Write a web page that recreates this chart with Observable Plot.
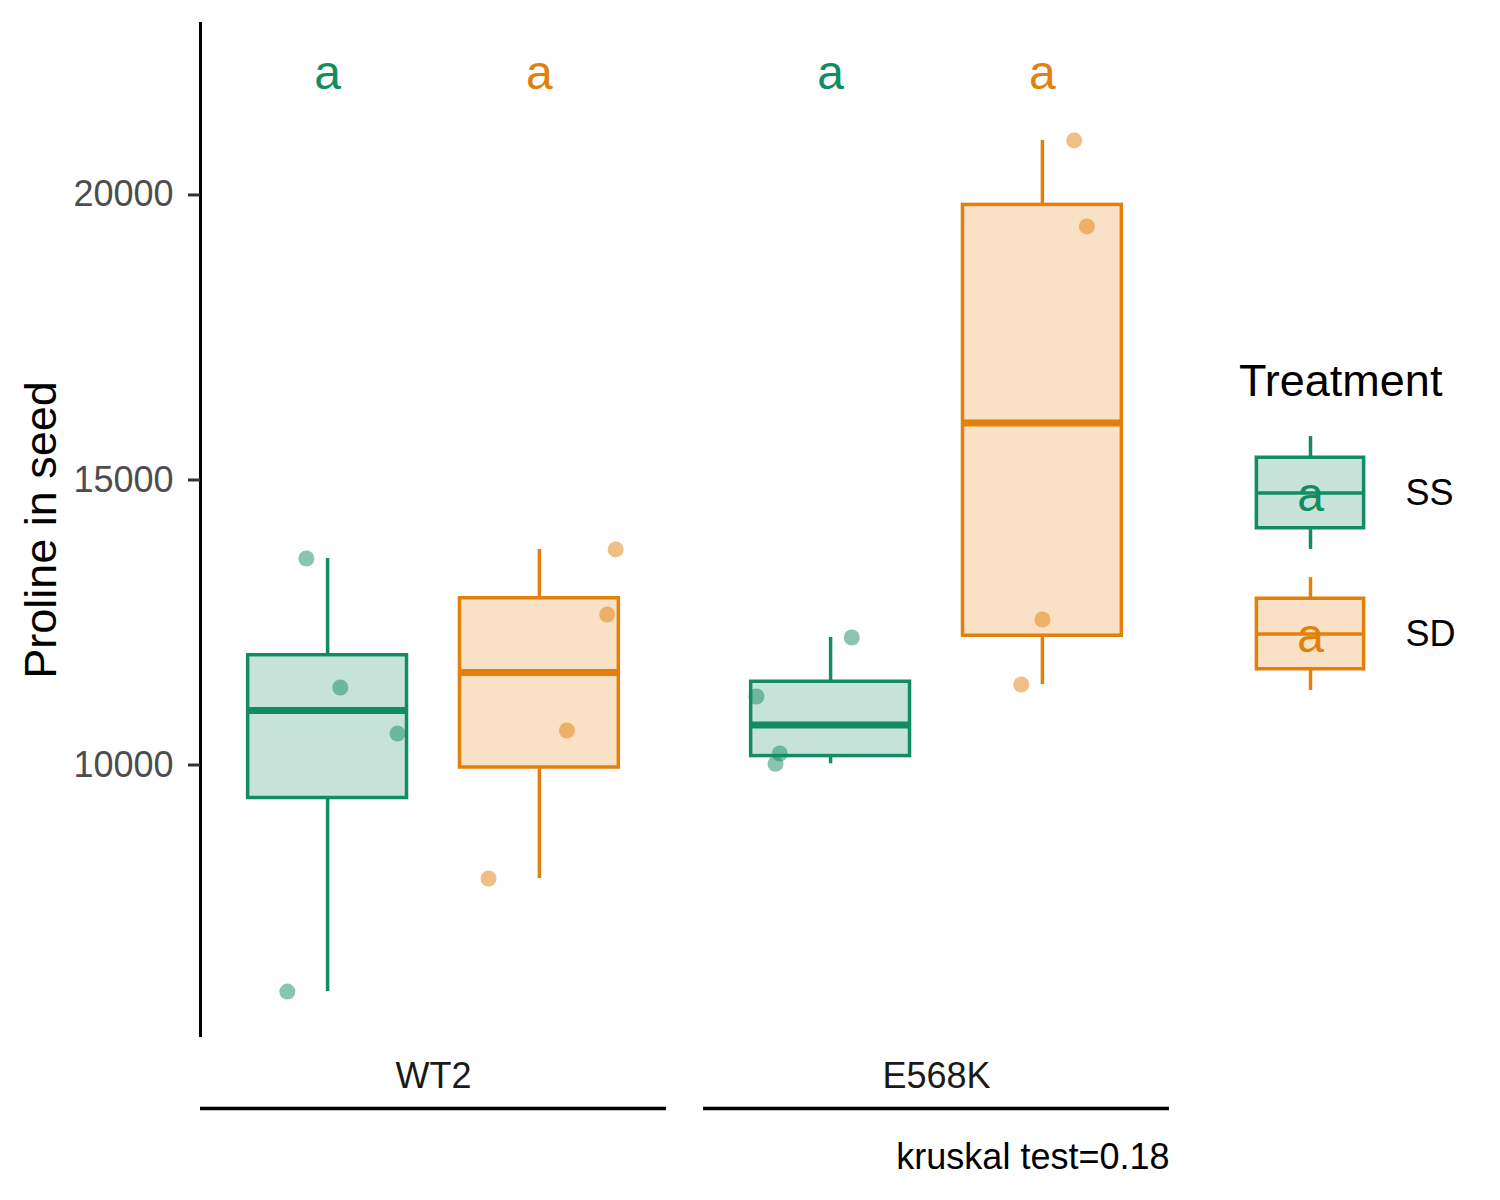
<!DOCTYPE html>
<html>
<head>
<meta charset="utf-8">
<script src="https://cdn.jsdelivr.net/npm/d3@7"></script>
<script src="https://cdn.jsdelivr.net/npm/@observablehq/plot@0.6"></script>
<style>
  body { margin: 0; background: #fff; font-family: "Liberation Sans", Arial, Helvetica, sans-serif; }
  #wrap { position: relative; width: 1500px; height: 1200px; overflow: hidden; }
  #legend { position: absolute; left: 1200px; top: 330px; width: 300px; height: 380px; }
  #legendTitle { position: absolute; left: 1239px; top: 355px; font-size: 45px; color: #000; white-space: nowrap; }
</style>
</head>
<body>
<div id="wrap"></div>
<script>
// ---- data ----
const genotypes = ["WT2", "E568K"];
const treatments = ["SS", "SD"];
const colors = ["#138C62", "#E2800B"];

const wt2SS   = [6026, 13623, 11360, 10553];
const wt2SD   = [8009, 10605, 12640, 13781];
const e568kSS = [10021, 10202, 11202, 12237];
const e568kSD = [11412, 12553, 19448, 20956];

// horizontal jitter of each point (in x units, band centre = 0)
const jitterWt2SS   = [-0.19, -0.10, 0.06, 0.33];
const jitterWt2SD   = [-0.24, 0.13, 0.32, 0.36];
const jitterE568kSS = [-0.26, -0.24, -0.35, 0.10];
const jitterE568kSD = [-0.10, 0.00, 0.21, 0.15];

const letters = ["a", "a", "a", "a"];
const yTicks = [10000, 15000, 20000];
const yDomain = [5220, 23025];
const xDomain = [0.4, 2.6];
const yLabel = "Proline in seed";
const legendTitle = "Treatment";
const caption = "kruskal test=0.18";

// ---- tables ----
const groups = [
  {genotype: genotypes[0], treatment: treatments[0], values: wt2SS, jitter: jitterWt2SS, letter: letters[0]},
  {genotype: genotypes[0], treatment: treatments[1], values: wt2SD, jitter: jitterWt2SD, letter: letters[1]},
  {genotype: genotypes[1], treatment: treatments[0], values: e568kSS, jitter: jitterE568kSS, letter: letters[2]},
  {genotype: genotypes[1], treatment: treatments[1], values: e568kSD, jitter: jitterE568kSD, letter: letters[3]}
];

const obs = groups.flatMap(g => g.values.map((v, i) => ({
  genotype: g.genotype, treatment: g.treatment, ti: treatments.indexOf(g.treatment) + 1,
  value: v, jitter: g.jitter[i]
})));

const boxes = groups.map(g => {
  const s = d3.sort(g.values);
  const q1 = d3.quantile(s, 0.25), med = d3.quantile(s, 0.5), q3 = d3.quantile(s, 0.75);
  const iqr = q3 - q1;
  const lo = d3.min(s.filter(v => v >= q1 - 1.5 * iqr));
  const hi = d3.max(s.filter(v => v <= q3 + 1.5 * iqr));
  return {genotype: g.genotype, treatment: g.treatment, ti: treatments.indexOf(g.treatment) + 1,
          q1, med, q3, lo, hi, letter: g.letter};
});

const halfBox = 0.375;
const font = '"Liberation Sans", Arial, Helvetica, sans-serif';

const chart = Plot.plot({
  width: 1500, height: 1200,
  marginTop: 22, marginBottom: 163, marginLeft: 200, marginRight: 331,
  style: {fontFamily: font, fontSize: "36px", background: "transparent", overflow: "visible"},
  fx: {domain: genotypes, paddingInner: 0.0736, paddingOuter: 0},
  x: {domain: xDomain, axis: null},
  y: {domain: yDomain},
  color: {domain: treatments, range: colors},
  marks: [
    Plot.ruleX(boxes, {fx: "genotype", x: "ti", y1: "q3", y2: "hi", stroke: "treatment", strokeWidth: 3.5}),
    Plot.ruleX(boxes, {fx: "genotype", x: "ti", y1: "lo", y2: "q1", stroke: "treatment", strokeWidth: 3.5}),
    Plot.rect(boxes, {fx: "genotype", x1: d => d.ti - halfBox, x2: d => d.ti + halfBox, y1: "q1", y2: "q3",
      fill: "treatment", fillOpacity: 0.24, stroke: "treatment", strokeWidth: 3.5}),
    Plot.ruleY(boxes, {fx: "genotype", y: "med", x1: d => d.ti - halfBox, x2: d => d.ti + halfBox,
      stroke: "treatment", strokeWidth: 7}),
    Plot.dot(obs, {fx: "genotype", x: d => d.ti + d.jitter, y: "value", fill: "treatment", fillOpacity: 0.5, r: 8}),
    Plot.text(boxes, {fx: "genotype", x: "ti", text: "letter", frameAnchor: "top", dy: 32,
      fill: "treatment", fontSize: 48}),
    Plot.ruleX([{g: genotypes[0], x: xDomain[0]}], {fx: "g", x: "x", stroke: "#000", strokeWidth: 3}),
    Plot.axisY({ticks: yTicks, tickFormat: d3.format("d"), tickSize: 12, tickPadding: 15, fontSize: 36,
      fill: "#4D4D4D", stroke: "#333333", strokeWidth: 3, label: null}),
    Plot.text([yLabel], {fx: () => genotypes[0], text: d => d, frameAnchor: "left", textAnchor: "middle",
      dx: -159, rotate: -90, fontSize: 45, fill: "#000"}),
    Plot.ruleY([yDomain[0]], {dy: 71, stroke: "#000", strokeWidth: 3.5}),
    Plot.axisFx({anchor: "bottom", tickSize: 0, tickPadding: 25, fontSize: 36, fill: "#1A1A1A", label: null}),
    Plot.text([caption], {fx: () => genotypes[1], text: d => d, frameAnchor: "bottom-right", dy: 131,
      fontSize: 36, fill: "#000"})
  ]
});

const keys = treatments.map((t, i) => ({t, letter: letters[i]}));

const legend = Plot.plot({
  width: 300, height: 380,
  marginTop: 92, marginBottom: 6, marginLeft: 38.5, marginRight: 118.5,
  style: {fontFamily: font, fontSize: "36px", background: "transparent", overflow: "visible"},
  fy: {domain: treatments, padding: 0, axis: null},
  x: {domain: [0, 1], axis: null},
  y: {domain: [0, 1], axis: null},
  color: {domain: treatments, range: colors},
  marks: [
    Plot.ruleX(keys, {fy: "t", x: 0.5, y1: 0.1, y2: 0.25, stroke: "t", strokeWidth: 3.5}),
    Plot.ruleX(keys, {fy: "t", x: 0.5, y1: 0.75, y2: 0.9, stroke: "t", strokeWidth: 3.5}),
    Plot.rect(keys, {fy: "t", x1: 0.125, x2: 0.875, y1: 0.25, y2: 0.75, fill: "t", fillOpacity: 0.24,
      stroke: "t", strokeWidth: 3.5}),
    Plot.ruleY(keys, {fy: "t", y: 0.5, x1: 0.125, x2: 0.875, stroke: "t", strokeWidth: 3.5}),
    Plot.text(keys, {fy: "t", x: 0.5, y: 0.5, dy: 3, text: "letter", fill: "t", fontSize: 48}),
    Plot.text(keys, {fy: "t", x: 1, y: 0.5, dx: 23.5, text: "t", textAnchor: "start", fontSize: 36, fill: "#000"})
  ]
});

const wrap = document.getElementById("wrap");
wrap.appendChild(chart);
const lg = document.createElement("div");
lg.id = "legend";
lg.appendChild(legend);
wrap.appendChild(lg);
const lt = document.createElement("div");
lt.id = "legendTitle";
lt.textContent = legendTitle;
wrap.appendChild(lt);
</script>
</body>
</html>
